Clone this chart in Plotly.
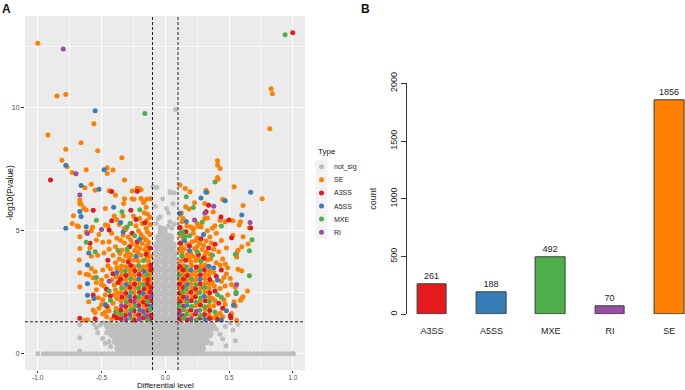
import plotly.graph_objects as go

# ---------------- data: volcano plot (x = differential level, y = -log10 P) ----------------
se_pts = [
    (-1.00, 12.62), (-0.85, 10.48), (-0.78, 10.54), (0.83, 10.77), (0.84, 10.57), (-0.56, 9.35), (0.82, 9.15),
    (-0.92, 8.89), (-0.66, 8.58), (-0.78, 8.31), (-0.53, 8.25), (-0.81, 7.87), (-0.77, 7.60), (-0.34, 7.97),
    (0.41, 7.85), (0.41, 7.67), (0.43, 7.53), (-0.455, 7.56), (-0.41, 7.47), (-0.455, 7.33), (-0.62, 7.48),
    (-0.73, 7.37), (-0.32, 7.06), (0.41, 7.16), (0.415, 7.09), (-0.58, 6.89), (-0.63, 6.75), (-0.55, 6.65),
    (-0.44, 6.63), (-0.39, 6.44), (-0.22, 6.73), (-0.20, 6.71), (-0.19, 6.67), (-0.26, 6.62), (0.54, 6.79),
    (0.32, 6.65), (0.33, 6.57), (-0.67, 6.25), (-0.67, 6.10), (0.76, 6.30), (0.45, 6.27), (-0.32, 6.30),
    (-0.26, 6.30), (-0.19, 6.31), (-0.115, 6.30), (-0.17, 6.18), (-0.146, 6.28), (-0.245, 6.28), (-0.326, 6.11),
    (-0.66, 6.09), (-0.64, 5.93), (-0.62, 5.84), (-0.47, 5.91), (-0.17, 6.15), (-0.15, 5.96), (-0.165, 5.73),
    (-0.14, 5.68), (-0.72, 5.61), (-0.73, 5.30), (-0.69, 5.20), (-0.68, 5.16), (-0.57, 5.14), (-0.47, 5.23),
    (-0.32, 5.10), (-0.31, 5.05), (-0.145, 5.42), (0.23, 6.14), (0.31, 6.11), (0.46, 6.25), (0.61, 6.03),
    (0.16, 5.98), (0.186, 5.88), (0.126, 5.72), (0.376, 5.76), (0.43, 5.43), (0.47, 5.37), (0.53, 5.41),
    (0.31, 5.50), (0.33, 5.52), (0.59, 5.37), (0.66, 5.12), (0.58, 5.23), (0.39, 5.20), (0.37, 5.10),
    (0.20, 5.15), (0.22, 5.10), (0.26, 5.18), (0.28, 5.17), (0.13, 5.37), (0.12, 5.64), (0.53, 4.82),
    (0.115, 6.86), (0.157, 6.72), (0.194, 6.59), (0.65, 4.46), (0.61, 4.76),
    # left outer
    (-0.67, 4.76), (-0.67, 4.28), (-0.675, 3.81), (-0.62, 3.23), (-0.60, 3.20), (-0.67, 3.29), (-0.67, 2.72),
    (-0.60, 2.11), (-0.565, 1.78), (-0.55, 1.68), (-0.61, 1.38), (-0.63, 1.36), (-0.58, 3.47), (-0.55, 3.33),
    (-0.565, 3.09), (-0.54, 4.62), (-0.49, 4.53), (-0.58, 3.96), (-0.53, 4.00), (-0.54, 2.90), (-0.50, 2.82),
    (-0.54, 2.60), (-0.525, 2.28), (-0.49, 2.20), (-0.50, 2.00), (-0.59, 4.30), (-0.52, 4.85), (-0.58, 5.00),
    (-0.62, 4.95), (-0.47, 1.70), (-0.52, 1.85), (-0.50, 3.00),
    # left semi-dense
    (-0.42, 1.40), (-0.46, 1.50), (-0.44, 1.75), (-0.49, 1.62), (-0.41, 2.05), (-0.38, 2.25), (-0.47, 2.40),
    (-0.39, 2.60), (-0.48, 2.75), (-0.42, 3.00), (-0.46, 3.15), (-0.43, 3.45), (-0.49, 3.40), (-0.39, 3.70),
    (-0.41, 4.00), (-0.48, 4.10), (-0.36, 1.62), (-0.37, 2.45), (-0.36, 3.10), (-0.45, 1.88), (-0.385, 1.85),
    (-0.40, 2.40), (-0.40, 2.80), (-0.385, 3.12), (-0.45, 3.58), (-0.38, 3.50),
    # left upper
    (-0.33, 3.78), (-0.25, 3.80), (-0.21, 3.76), (-0.13, 3.75), (-0.31, 3.98), (-0.27, 4.02), (-0.19, 4.00),
    (-0.115, 3.95), (-0.34, 4.22), (-0.24, 4.20), (-0.20, 4.28), (-0.16, 4.24), (-0.32, 4.50), (-0.26, 4.46),
    (-0.18, 4.48), (-0.13, 4.52), (-0.29, 4.75), (-0.17, 4.72), (-0.12, 4.85), (-0.21, 5.00), (-0.15, 5.10),
    (-0.38, 4.70), (-0.42, 4.90), (-0.36, 5.25), (-0.27, 5.30), (-0.40, 5.60), (-0.25, 5.60), (-0.12, 5.55),
    (-0.36, 3.85), (-0.28, 3.88), (-0.225, 3.87), (-0.145, 3.88), (-0.355, 4.08), (-0.295, 4.12), (-0.215, 4.12),
    (-0.135, 4.15), (-0.44, 4.25), (-0.39, 4.35), (-0.225, 4.38), (-0.145, 4.38), (-0.35, 4.60), (-0.27, 4.62),
    (-0.15, 4.62), (-0.44, 4.55), (-0.33, 4.82), (-0.19, 4.85), (-0.14, 4.95), (-0.45, 5.20), (-0.23, 5.20),
    (-0.18, 5.30), (-0.12, 5.25), (-0.38, 5.45), (-0.20, 5.50), (-0.33, 5.60),
    # left core
    (-0.236, 1.57), (-0.306, 1.74), (-0.276, 1.97), (-0.166, 1.91), (-0.346, 2.13), (-0.204, 2.14),
    (-0.312, 2.28), (-0.169, 2.27), (-0.348, 2.49), (-0.244, 2.47), (-0.136, 2.48), (-0.314, 2.64),
    (-0.238, 2.65), (-0.142, 2.66), (-0.345, 2.85), (-0.274, 2.87), (-0.203, 2.86), (-0.114, 2.88),
    (-0.311, 3.00), (-0.236, 3.01), (-0.165, 2.99), (-0.113, 3.06), (-0.341, 3.21), (-0.278, 3.23),
    (-0.243, 3.19), (-0.172, 3.17), (-0.117, 3.24), (-0.346, 3.39), (-0.275, 3.41), (-0.201, 3.40),
    (-0.137, 3.38), (-0.343, 3.57), (-0.307, 3.54), (-0.245, 3.55), (-0.174, 3.53), (-0.141, 3.56),
    # right core
    (0.208, 1.57), (0.343, 1.58), (0.173, 1.74), (0.313, 1.80), (0.239, 1.95), (0.341, 1.94), (0.139, 2.14),
    (0.273, 2.13), (0.111, 2.29), (0.209, 2.33), (0.344, 2.30), (0.174, 2.46), (0.245, 2.45), (0.311, 2.52),
    (0.114, 2.65), (0.207, 2.69), (0.279, 2.67), (0.342, 2.66), (0.140, 2.86), (0.203, 2.87), (0.315, 2.88),
    (0.345, 2.84), (0.115, 3.01), (0.168, 3.00), (0.237, 2.99), (0.309, 3.06), (0.138, 3.22), (0.208, 3.23),
    (0.243, 3.17), (0.313, 3.24), (0.343, 3.20), (0.113, 3.37), (0.170, 3.36), (0.239, 3.35), (0.347, 3.38),
    (0.145, 3.58), (0.206, 3.59), (0.278, 3.57), (0.312, 3.60),
    # right semi-dense
    (0.37, 1.45), (0.45, 1.50), (0.43, 1.65), (0.38, 1.95), (0.47, 2.00), (0.37, 2.25), (0.49, 2.40),
    (0.43, 2.65), (0.47, 2.75), (0.37, 2.90), (0.46, 3.10), (0.38, 3.30), (0.49, 3.50), (0.40, 3.70),
    (0.45, 3.85), (0.42, 4.15), (0.48, 4.30), (0.40, 1.55), (0.39, 2.15), (0.46, 2.20), (0.385, 2.75),
    (0.44, 2.95), (0.48, 3.25), (0.43, 3.60), (0.47, 3.65),
    # right upper
    (0.12, 3.76), (0.20, 3.74), (0.24, 3.79), (0.33, 3.81), (0.17, 4.02), (0.22, 3.96), (0.31, 3.99),
    (0.35, 4.05), (0.115, 4.22), (0.15, 4.26), (0.23, 4.28), (0.29, 4.24), (0.17, 4.46), (0.21, 4.55),
    (0.27, 4.48), (0.32, 4.58), (0.14, 4.74), (0.25, 4.72), (0.13, 5.00), (0.22, 5.05), (0.28, 5.15),
    (0.14, 3.88), (0.19, 3.90), (0.26, 3.86), (0.355, 3.85), (0.13, 4.12), (0.20, 4.10), (0.32, 4.14),
    (0.38, 4.25), (0.125, 4.36), (0.25, 4.36), (0.30, 4.40), (0.36, 4.50), (0.24, 4.60), (0.35, 4.75),
    (0.12, 4.80), (0.22, 4.90), (0.33, 5.00), (0.17, 5.20), (0.25, 5.30), (0.14, 5.50), (0.40, 4.90),
    (0.44, 4.60),
    # right outer
    (0.60, 4.35), (0.57, 4.21), (0.56, 4.08), (0.56, 3.93), (0.57, 3.44), (0.60, 3.37), (0.51, 3.06),
    (0.52, 2.82), (0.55, 2.70), (0.61, 2.32), (0.59, 2.18), (0.54, 2.11), (0.55, 1.94), (0.52, 1.64),
    (0.515, 1.50), (0.56, 1.36), (0.645, 2.55), (0.60, 2.25),
]

a3ss_pts = [
    (1.00, 13.05), (-0.90, 7.06), (-0.42, 6.60), (-0.22, 6.61), (0.34, 6.04), (-0.565, 5.83), (-0.27, 5.83),
    (-0.42, 5.41), (-0.23, 5.46), (-0.44, 5.03), (-0.16, 5.33), (0.32, 5.77), (0.437, 5.56), (0.50, 5.44),
    (0.67, 5.11), (0.115, 5.14), (0.162, 4.96), (0.52, 4.72), (-0.67, 1.44), (-0.565, 2.39), (-0.46, 1.94),
    (-0.59, 4.49), (0.515, 1.46), (0.51, 1.55), (-0.38, 1.45), (-0.43, 2.35), (-0.37, 2.90), (-0.45, 3.80),
    (-0.55, 1.42), (-0.29, 3.74), (-0.15, 4.05), (-0.12, 4.30), (-0.22, 4.55), (0.41, 1.40), (0.42, 2.05),
    (0.39, 2.55), (0.44, 3.40), (0.39, 4.45), (0.16, 3.80), (0.26, 4.04), (0.34, 4.30), (0.12, 4.50),
    (-0.28, 4.35), (-0.26, 4.90), (-0.40, 1.55), (-0.46, 2.62), (-0.41, 3.25), (0.30, 3.88), (0.19, 4.38),
    (0.28, 4.68), (0.45, 1.85), (0.40, 3.15),
    # left core
    (-0.347, 1.42), (-0.243, 1.37), (-0.172, 1.45), (-0.114, 1.43), (-0.313, 1.56), (-0.207, 1.59),
    (-0.112, 1.58), (-0.349, 1.77), (-0.245, 1.75), (-0.137, 1.76), (-0.311, 1.92), (-0.209, 1.96),
    (-0.141, 1.98), (-0.273, 2.15), (-0.171, 2.09), (-0.115, 2.16), (-0.340, 2.31), (-0.237, 2.29),
    (-0.144, 2.30), (-0.309, 2.46), (-0.202, 2.50), (-0.116, 2.52), (-0.277, 2.69), (-0.167, 2.63),
    (-0.112, 2.70), (-0.241, 2.83), (-0.140, 2.84), (-0.349, 3.03), (-0.138, 3.02), (-0.308, 3.18),
    (-0.205, 3.22), (-0.239, 3.37), (-0.111, 3.42), (-0.271, 3.59), (-0.115, 3.60),
    # right core
    (0.113, 1.41), (0.172, 1.38), (0.272, 1.45), (0.347, 1.43), (0.138, 1.55), (0.237, 1.62), (0.307, 1.60),
    (0.114, 1.75), (0.201, 1.78), (0.349, 1.76), (0.145, 1.93), (0.276, 1.98), (0.115, 2.11), (0.204, 2.15),
    (0.314, 2.16), (0.142, 2.32), (0.236, 2.31), (0.113, 2.47), (0.202, 2.51), (0.348, 2.48), (0.144, 2.68),
    (0.238, 2.63), (0.112, 2.83), (0.274, 2.85), (0.143, 3.04), (0.349, 3.02), (0.173, 3.18), (0.276, 3.21),
    (0.141, 3.40), (0.307, 3.42), (0.114, 3.55), (0.244, 3.53),
]

a5ss_pts = [
    (-0.55, 9.88), (-0.78, 7.66), (-0.48, 7.48), (-0.66, 6.84), (-0.52, 6.69), (0.32, 6.57), (0.67, 6.57),
    (0.28, 6.33), (-0.405, 5.96), (0.47, 6.22), (0.60, 5.64), (-0.66, 5.58), (-0.35, 5.34), (-0.78, 5.10),
    (-0.62, 5.16), (0.165, 5.38), (-0.61, 3.61), (-0.61, 2.85), (-0.61, 2.38), (-0.67, 5.78), (0.555, 2.45),
    (0.535, 1.97), (0.44, 1.37), (0.115, 5.71), (-0.47, 2.00), (-0.38, 3.30), (-0.23, 3.96), (-0.33, 4.95),
    (0.48, 1.75), (0.41, 3.00), (0.19, 4.20), (0.30, 4.85), (-0.60, 4.10), (-0.56, 2.25), (-0.20, 4.65),
    (0.15, 4.60), (0.38, 3.50),
    (-0.201, 1.78), (-0.113, 1.94), (-0.279, 2.33), (-0.173, 2.45), (-0.306, 2.82), (-0.207, 3.04),
    (-0.168, 3.35),
    (0.312, 1.40), (0.167, 1.97), (0.306, 2.34), (0.172, 2.82), (0.272, 3.03), (0.201, 3.41), (0.341, 3.56),
]

mxe_pts = [
    (0.94, 12.97), (-0.16, 9.77), (0.39, 6.98), (0.165, 6.38), (-0.34, 5.77), (-0.20, 5.85), (-0.54, 5.43),
    (-0.275, 5.30), (0.22, 5.95), (0.29, 5.35), (0.44, 5.19), (0.12, 4.93), (0.68, 4.63), (0.66, 4.19),
    (0.66, 3.17), (0.55, 4.05), (0.555, 2.50), (-0.55, 4.15), (-0.62, 4.53), (0.136, 4.89), (0.155, 4.76),
    (-0.39, 1.70), (-0.44, 2.55), (-0.37, 4.20), (-0.17, 3.79), (-0.30, 4.25), (-0.24, 4.80), (-0.54, 3.10),
    (0.39, 1.70), (0.44, 2.30), (0.37, 4.00), (0.28, 3.75), (0.13, 3.98), (0.19, 4.80), (-0.30, 5.15),
    (-0.43, 2.18), (0.25, 4.15), (0.41, 2.40),
    (-0.272, 1.44), (-0.138, 1.39), (-0.341, 1.60), (-0.168, 1.62), (-0.271, 1.79), (-0.117, 1.80),
    (-0.239, 1.93), (-0.307, 2.10), (-0.139, 2.12), (-0.206, 2.32), (-0.270, 2.51), (-0.342, 2.67),
    (-0.208, 2.68), (-0.170, 2.81), (-0.272, 3.05), (-0.143, 3.20), (-0.313, 3.36), (-0.209, 3.58),
    (0.143, 1.44), (0.243, 1.37), (0.168, 1.61), (0.278, 1.56), (0.141, 1.79), (0.271, 1.77), (0.112, 1.96),
    (0.206, 1.92), (0.309, 1.91), (0.171, 2.10), (0.242, 2.09), (0.346, 2.12), (0.277, 2.27), (0.137, 2.50),
    (0.270, 2.49), (0.166, 2.64), (0.308, 2.70), (0.241, 2.81), (0.205, 3.05), (0.111, 3.19), (0.271, 3.39),
    (0.167, 3.54),
]

ri_pts = [
    (-0.80, 12.39), (-0.70, 7.32), (-0.67, 6.45), (0.38, 6.00), (0.31, 5.71), (0.23, 5.44), (0.665, 5.34),
    (0.56, 2.82), (-0.50, 5.05), (-0.61, 4.89), (-0.44, 2.95),
    (-0.308, 1.38), (-0.203, 1.41), (-0.278, 1.61), (-0.143, 1.55), (-0.174, 1.73), (-0.343, 1.95),
    (-0.242, 2.11), (-0.111, 2.34),
    (0.203, 1.42), (0.111, 1.59), (0.244, 1.73), (0.169, 2.28),
]

# not significant events: the band at P = 1 (y = 0) and the scattered / dense cloud
notsig_line_x = [-1.00, -0.955, -0.927, -0.896, -0.866, -0.834, -0.806, -0.774, -0.745, -0.716, -0.684, -0.656,
                 -0.624, -0.596, -0.565, -0.536, -0.504, -0.476, -0.444, -0.416, -0.385, -0.356, -0.324, -0.296,
                 -0.265, -0.236, -0.204, -0.176, -0.145, -0.116, -0.084, -0.056, -0.025, 0.004, 0.036, 0.064,
                 0.095, 0.124, 0.156, 0.184, 0.215, 0.244, 0.276, 0.304, 0.335, 0.364, 0.396, 0.424, 0.455,
                 0.484, 0.516, 0.544, 0.575, 0.604, 0.636, 0.664, 0.695, 0.724, 0.756, 0.784, 0.815, 0.844,
                 0.876, 0.904, 0.935, 0.964, 0.992, 1.005]
notsig_pts = [
    (-0.67, 1.18), (-0.67, 0.65), (-0.67, 0.11), (-0.54, 1.06), (-0.49, 0.62), (-0.47, 0.43), (-0.44, 0.50),
    (-0.43, 0.30), (-0.51, 1.17), (-0.53, 0.85), (-0.46, 0.85), (-0.56, 1.22), (-0.48, 1.25), (0.476, 0.33),
    (0.55, 0.53), (0.53, 0.97), (0.47, 1.11), (0.43, 0.79), (0.36, 0.42), (0.57, 1.20), (0.51, 1.25),
    (0.40, 1.00), (0.45, 0.60), (0.08, 9.93), (-0.094, 6.79), (-0.067, 6.76), (0.037, 6.59), (0.07, 6.55),
    (0.04, 6.56), (-0.055, 5.50), (-0.04, 5.57), (-0.04, 5.14), (0.024, 5.73), (0.037, 5.37), (0.07, 5.26),
    (0.024, 5.19), (0.05, 5.10), (-0.08, 6.00), (0.06, 6.10), (-0.02, 6.30), (0.01, 5.90), (-0.07, 5.30),
]
notsig_dense_pts = [
    (-0.44, 1.12), (-0.375, 1.11), (-0.31, 1.13), (-0.25, 1.12), (-0.185, 1.11), (-0.12, 1.13), (-0.06, 1.12),
    (0.00, 1.11), (0.06, 1.13), (0.125, 1.12), (0.19, 1.11), (0.25, 1.13), (0.31, 1.12), (0.36, 1.11),
    (-0.41, 0.82), (-0.345, 0.81), (-0.28, 0.83), (-0.22, 0.82), (-0.155, 0.81), (-0.09, 0.83), (-0.03, 0.82),
    (0.03, 0.81), (0.095, 0.83), (0.16, 0.82), (0.22, 0.81), (0.28, 0.83), (0.34, 0.82),
    (-0.38, 0.52), (-0.32, 0.51), (-0.255, 0.53), (-0.19, 0.52), (-0.125, 0.51), (-0.06, 0.53), (0.00, 0.52),
    (0.065, 0.51), (0.13, 0.53), (0.19, 0.52), (0.25, 0.51), (0.31, 0.53),
    (-0.36, 0.22), (-0.295, 0.21), (-0.23, 0.23), (-0.165, 0.22), (-0.10, 0.21), (-0.035, 0.23), (0.03, 0.22),
    (0.095, 0.21), (0.16, 0.23), (0.22, 0.22), (0.28, 0.21),
    (-0.062, 1.48), (0.001, 1.47), (0.061, 1.49), (-0.061, 1.80), (0.000, 1.81), (0.062, 1.79),
    (-0.063, 2.12), (0.001, 2.13), (0.061, 2.11), (-0.062, 2.45), (0.000, 2.44), (0.062, 2.46),
    (-0.061, 2.78), (0.001, 2.77), (0.061, 2.79), (-0.062, 3.10), (0.000, 3.11), (0.062, 3.09),
    (-0.063, 3.43), (0.001, 3.42), (0.061, 3.44), (-0.062, 3.76), (0.000, 3.75), (0.060, 3.77),
    (-0.060, 4.08), (0.001, 4.09), (0.058, 4.07), (-0.055, 4.40), (0.000, 4.41), (0.050, 4.39),
    (-0.040, 4.72), (0.030, 4.72), (-0.020, 5.00),
]

fc_cut = 0.1      # |differential level| threshold
p_cut = 1.3       # -log10(0.05)

legend_types = ["not_sig", "SE", "A3SS", "A5SS", "MXE", "RI"]

# ---------------- data: bar chart ----------------
bar_types = ["A3SS", "A5SS", "MXE", "RI", "SE"]
bar_counts = [261, 188, 492, 70, 1856]

type_colors = {"not_sig": "#BEBEBE", "SE": "#FF7F00", "A3SS": "#E41A1C", "A5SS": "#377EB8",
               "MXE": "#4DAF4A", "RI": "#984EA3"}

FONT = "Liberation Sans, Arial, sans-serif"
W, H = 685, 390
fig = go.Figure()


def xs(pts):
    return [p[0] for p in pts]


def ys(pts):
    return [p[1] for p in pts]


grey = type_colors["not_sig"]
fig.add_trace(go.Scatter(x=notsig_line_x, y=[0] * len(notsig_line_x), mode="markers", name="not_sig",
                         showlegend=False, marker=dict(color=grey, size=5)))
fig.add_trace(go.Scatter(x=xs(notsig_dense_pts), y=ys(notsig_dense_pts), mode="markers", name="not_sig",
                         showlegend=False, marker=dict(color=grey, size=10)))
fig.add_trace(go.Scatter(x=xs(notsig_pts), y=ys(notsig_pts), mode="markers", name="not_sig",
                         showlegend=False, marker=dict(color=grey, size=5)))
for name, pts in [("SE", se_pts), ("A3SS", a3ss_pts), ("A5SS", a5ss_pts), ("MXE", mxe_pts), ("RI", ri_pts)]:
    fig.add_trace(go.Scatter(x=xs(pts), y=ys(pts), mode="markers", name=name, showlegend=False,
                             marker=dict(color=type_colors[name], size=5)))

# bar chart (R barplot layout: width 1, space 1)
bar_pos = [1.5 + 2 * i for i in range(len(bar_types))]
bar_cols = [type_colors[t] for t in bar_types]
fig.add_trace(go.Bar(x=bar_pos, y=bar_counts, width=1, marker=dict(color=bar_cols, line=dict(color="#3a3a3a", width=1)),
                     text=[str(v) for v in bar_counts], textposition="outside", cliponaxis=False,
                     textfont=dict(size=9, color="#222", family=FONT), showlegend=False,
                     xaxis="x2", yaxis="y2"))

# panel background and threshold lines
shapes = [dict(type="rect", xref="x domain", yref="y domain", x0=0, x1=1, y0=0, y1=1,
               fillcolor="#EBEBEB", line_width=0, layer="below")]
for xv in (-fc_cut, fc_cut):
    shapes.append(dict(type="line", xref="x", yref="y domain", x0=xv, x1=xv, y0=0, y1=1,
                       line=dict(color="#222", width=1, dash="3px,2px")))
shapes.append(dict(type="line", xref="x domain", yref="y", x0=0, x1=1, y0=p_cut, y1=p_cut,
                   line=dict(color="#222", width=1, dash="3px,2px")))

# ggplot-style legend (keys on grey squares)
annotations = [
    dict(text="<b>A</b>", x=6 / W, y=1 - 9 / H, xref="paper", yref="paper", showarrow=False,
         font=dict(size=12, color="#111"), xanchor="center", yanchor="middle"),
    dict(text="<b>B</b>", x=365.5 / W, y=1 - 9 / H, xref="paper", yref="paper", showarrow=False,
         font=dict(size=12, color="#111"), xanchor="center", yanchor="middle"),
    dict(text="Type", x=316 / W, y=1 - 152 / H, xref="paper", yref="paper", showarrow=False,
         font=dict(size=8, color="#111"), xanchor="left", yanchor="middle"),
    dict(text="Differential level", x=165.3 / W, y=1 - 385.5 / H, xref="paper", yref="paper", showarrow=False,
         font=dict(size=8, color="#111"), xanchor="center", yanchor="middle"),
    dict(text="-log10(Pvalue)", x=9.5 / W, y=1 - 193 / H, xref="paper", yref="paper", showarrow=False,
         textangle=-90, font=dict(size=8.5, color="#111"), xanchor="center", yanchor="middle"),
]
key_x, key_y0, key_dy = 321.5, 166.7, 13.1
for i, t in enumerate(legend_types):
    cy = key_y0 + i * key_dy
    shapes.append(dict(type="rect", xref="paper", yref="paper", x0=(key_x - 6) / W, x1=(key_x + 6) / W,
                       y0=1 - (cy + 6.5) / H, y1=1 - (cy - 6.5) / H, fillcolor="#F2F2F2", line_width=0))
    shapes.append(dict(type="circle", xref="paper", yref="paper", x0=(key_x - 2.5) / W, x1=(key_x + 2.5) / W,
                       y0=1 - (cy + 2.5) / H, y1=1 - (cy - 2.5) / H, fillcolor=type_colors[t], line_width=0))
    annotations.append(dict(text=t, x=332 / W, y=1 - cy / H, xref="paper", yref="paper", showarrow=False,
                            font=dict(size=7, color="#222"), xanchor="left", yanchor="middle"))

fig.update_layout(
    width=W, height=H, margin=dict(l=0, r=0, t=0, b=0, autoexpand=False),
    paper_bgcolor="white", plot_bgcolor="white",
    font=dict(family=FONT, color="#222"),
    bargap=0, showlegend=False,
    shapes=shapes, annotations=annotations,
    xaxis=dict(domain=[25 / W, 305 / W], range=[-1.10, 1.096], anchor="y", automargin=False,
               tickvals=[-1, -0.5, 0, 0.5, 1], ticktext=["-1.0", "-0.5", "0.0", "0.5", "1.0"],
               showgrid=True, gridcolor="white", gridwidth=1, zeroline=False, showline=False,
               ticks="outside", ticklen=2, tickcolor="#333", tickwidth=1, ticklabelstandoff=-1,
               tickfont=dict(size=6.5, color="#4D4D4D"),
               minor=dict(tickvals=[-0.75, -0.25, 0.25, 0.75], showgrid=True, gridcolor="#F7F7F7", gridwidth=0.5, ticks="")),
    yaxis=dict(domain=[1 - 370 / H, 1 - 16 / H], range=[-0.66, 13.73], anchor="x", automargin=False,
               tickvals=[0, 5, 10], ticktext=["0", "5", "10"],
               showgrid=True, gridcolor="white", gridwidth=1, zeroline=False, showline=False,
               ticks="outside", ticklen=3, tickcolor="#333", tickwidth=1,
               tickfont=dict(size=7, color="#4D4D4D"),
               minor=dict(tickvals=[2.5, 7.5, 12.5], showgrid=True, gridcolor="#F7F7F7", gridwidth=0.5, ticks="")),
    xaxis2=dict(domain=[406.6 / W, 1], range=[0.64, 10.03], anchor="y2", automargin=False,
                tickvals=bar_pos, ticktext=bar_types, showgrid=False, zeroline=False, showline=False,
                ticks="outside", ticklen=8, tickcolor="rgba(0,0,0,0)", tickfont=dict(size=9, color="#222")),
    yaxis2=dict(domain=[1 - 314.3 / H, 1 - 83.3 / H], range=[0, 2000], anchor="x2", automargin=False,
                tickvals=[0, 500, 1000, 1500, 2000], tickangle=-90,
                showgrid=False, zeroline=False, showline=True, linecolor="#333", linewidth=1,
                ticks="outside", ticklen=5, tickcolor="#333", tickfont=dict(size=9, color="#222"),
                title=dict(text="count", font=dict(size=9, color="#222"), standoff=10)),
)

fig.write_html("out.html", config={"displayModeBar": False, "responsive": False},
               post_script="document.body.style.margin='0';document.body.style.padding='0';")
